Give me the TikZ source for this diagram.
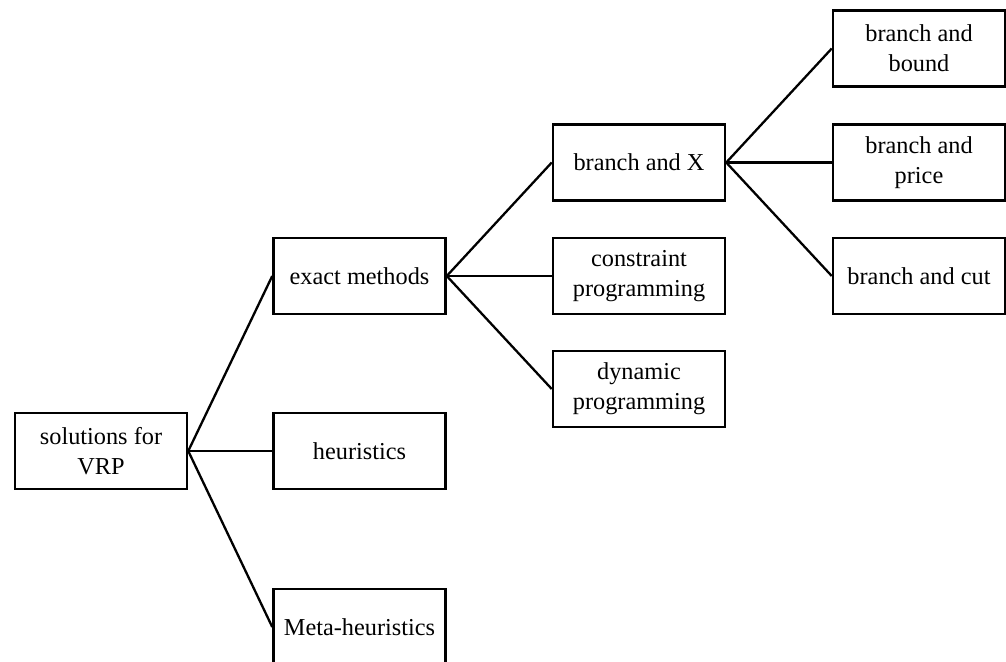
\documentclass[tikz,border=0pt]{standalone}
\usepackage{fontspec}
\setmainfont{Liberation Serif}
\begin{document}
\begin{tikzpicture}[x=1pt,y=-1pt,
  box/.style={draw=black,line width=2.5pt,minimum width=172pt,minimum height=76pt,inner sep=0pt,align=center,font=\fontsize{24.3}{30}\selectfont},
  link/.style={draw=black,line width=2.3pt}]
\useasboundingbox (0,0) rectangle (1006,661);
\node[box] (sol) at (101,451) {solutions for\\VRP};
\node[box] (exact) at (359.5,276) {exact methods};
\node[box] (heur) at (359.5,451) {heuristics};
\node[box] (meta) at (359.5,627) {Meta-heuristics};
\node[box] (bx) at (639,162.5) {branch and X};
\node[box] (cp) at (639,276) {constraint\\programming};
\node[box] (dp) at (639,389) {dynamic\\programming};
\node[box] (bb) at (919,48.5) {branch and\\bound};
\node[box] (bp) at (919,162.5) {branch and\\price};
\node[box] (bc) at (919,276) {branch and cut};
\draw[link] (sol.east) -- (exact.west);
\draw[link] (sol.east) -- (heur.west);
\draw[link] (sol.east) -- (meta.west);
\draw[link] (exact.east) -- (bx.west);
\draw[link] (exact.east) -- (cp.west);
\draw[link] (exact.east) -- (dp.west);
\draw[link] (bx.east) -- (bb.west);
\draw[link] (bx.east) -- (bp.west);
\draw[link] (bx.east) -- (bc.west);
\end{tikzpicture}
\end{document}
